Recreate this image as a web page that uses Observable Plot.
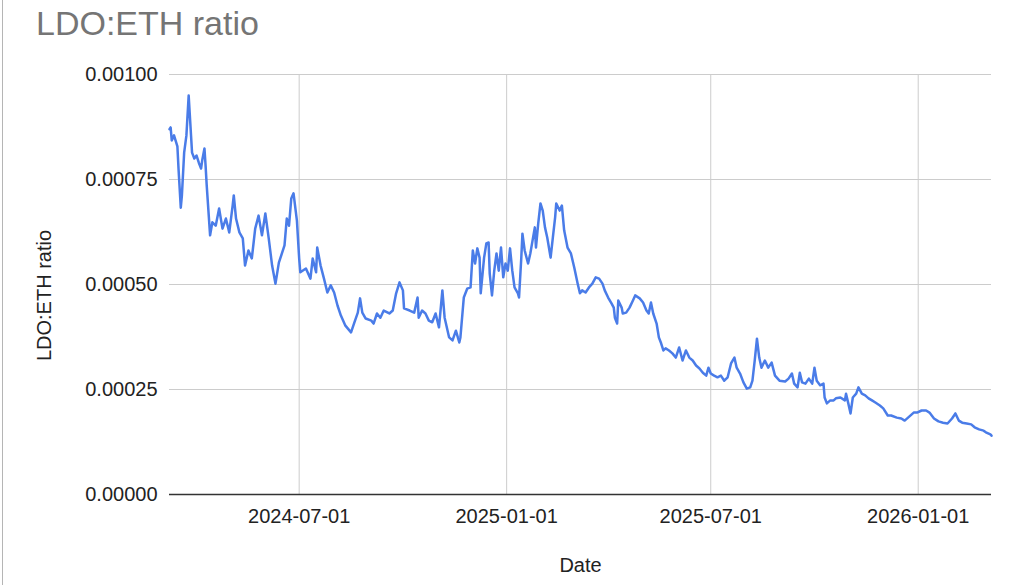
<!DOCTYPE html>
<html>
<head>
<meta charset="utf-8">
<script src="https://cdn.jsdelivr.net/npm/d3@7"></script>
<script src="https://cdn.jsdelivr.net/npm/@observablehq/plot@0.6"></script>
<style>
  html, body { margin: 0; padding: 0; background: #fff; }
  #wrap { position: relative; width: 1024px; height: 585px; overflow: hidden; font-family: "Liberation Sans", Arial, sans-serif; }
  #title { position: absolute; left: 36px; top: 4px; font-size: 34px; color: #757575; white-space: nowrap; }
  #edge { position: absolute; left: 2px; top: 0; width: 1px; height: 585px; background: #b5b5b5; }
  #chart { position: absolute; left: 0; top: 0; }
</style>
</head>
<body>
<div id="wrap">
  <div id="chart"></div>
  <div id="title">LDO:ETH ratio</div>
  <div id="edge"></div>
</div>
<script>
const titleText = "LDO:ETH ratio";
const xLabel = "Date";
const yLabel = "LDO:ETH ratio";

const xTickLabels = ["2024-07-01", "2025-01-01", "2025-07-01", "2026-01-01"];
const yTicks = [0, 0.00025, 0.0005, 0.00075, 0.001];

const dates = [
"2024-03-08","2024-03-09","2024-03-10","2024-03-12","2024-03-15","2024-03-16","2024-03-18","2024-03-19","2024-03-21","2024-03-23",
"2024-03-25","2024-03-28","2024-03-30","2024-04-01","2024-04-03","2024-04-05","2024-04-06","2024-04-08","2024-04-09","2024-04-10",
"2024-04-13","2024-04-15","2024-04-18","2024-04-21","2024-04-24","2024-04-27","2024-04-30","2024-05-03","2024-05-04","2024-05-06",
"2024-05-09","2024-05-12","2024-05-14","2024-05-17","2024-05-20","2024-05-23","2024-05-26","2024-05-29","2024-06-01","2024-06-04",
"2024-06-07","2024-06-10","2024-06-13","2024-06-18","2024-06-20","2024-06-22","2024-06-24","2024-06-26","2024-06-29","2024-07-01",
"2024-07-02","2024-07-07","2024-07-11","2024-07-13","2024-07-16","2024-07-17","2024-07-20","2024-07-23","2024-07-26","2024-07-29",
"2024-08-01","2024-08-04","2024-08-07","2024-08-11","2024-08-16","2024-08-19","2024-08-22","2024-08-24","2024-08-26","2024-08-29",
"2024-09-03","2024-09-05","2024-09-08","2024-09-11","2024-09-14","2024-09-19","2024-09-22","2024-09-25","2024-09-28","2024-10-01",
"2024-10-02","2024-10-07","2024-10-11","2024-10-14","2024-10-15","2024-10-18","2024-10-21","2024-10-24","2024-10-27","2024-10-30",
"2024-11-02","2024-11-05","2024-11-07","2024-11-11","2024-11-14","2024-11-17","2024-11-20","2024-11-21","2024-11-24","2024-11-27",
"2024-11-30","2024-12-02","2024-12-04","2024-12-06","2024-12-08","2024-12-09","2024-12-12","2024-12-14","2024-12-16","2024-12-17",
"2024-12-19","2024-12-21","2024-12-23","2024-12-25","2024-12-27","2024-12-29","2024-12-31","2025-01-02","2025-01-04","2025-01-06",
"2025-01-08","2025-01-11","2025-01-12","2025-01-14","2025-01-15","2025-01-17","2025-01-20","2025-01-22","2025-01-24","2025-01-26",
"2025-01-27","2025-01-29","2025-01-31","2025-02-02","2025-02-04","2025-02-06","2025-02-09","2025-02-11","2025-02-13","2025-02-14",
"2025-02-17","2025-02-19","2025-02-21","2025-02-24","2025-02-27","2025-03-02","2025-03-05","2025-03-07","2025-03-09","2025-03-12",
"2025-03-15","2025-03-18","2025-03-21","2025-03-24","2025-03-27","2025-03-29","2025-04-01","2025-04-04","2025-04-06","2025-04-07",
"2025-04-09","2025-04-10","2025-04-13","2025-04-14","2025-04-17","2025-04-20","2025-04-23","2025-04-25","2025-04-29","2025-05-02",
"2025-05-05","2025-05-07","2025-05-09","2025-05-11","2025-05-14","2025-05-16","2025-05-18","2025-05-20","2025-05-22","2025-05-25",
"2025-05-28","2025-05-31","2025-06-03","2025-06-06","2025-06-09","2025-06-12","2025-06-15","2025-06-18","2025-06-21","2025-06-24",
"2025-06-27","2025-06-29","2025-07-01","2025-07-04","2025-07-07","2025-07-10","2025-07-13","2025-07-16","2025-07-19","2025-07-22",
"2025-07-24","2025-07-27","2025-07-30","2025-08-02","2025-08-05","2025-08-07","2025-08-09","2025-08-11","2025-08-13","2025-08-15",
"2025-08-18","2025-08-21","2025-08-24","2025-08-27","2025-08-31","2025-09-05","2025-09-08","2025-09-11","2025-09-13","2025-09-16",
"2025-09-18","2025-09-20","2025-09-23","2025-09-26","2025-09-29","2025-10-01","2025-10-03","2025-10-06","2025-10-09","2025-10-10",
"2025-10-12","2025-10-15","2025-10-18","2025-10-20","2025-10-24","2025-10-28","2025-10-29","2025-10-31","2025-11-02","2025-11-04",
"2025-11-07","2025-11-09","2025-11-12","2025-11-15","2025-11-18","2025-11-21","2025-11-24","2025-11-28","2025-12-01","2025-12-05",
"2025-12-08","2025-12-13","2025-12-17","2025-12-20","2025-12-23","2025-12-28","2025-12-31","2026-01-04","2026-01-08","2026-01-11",
"2026-01-15","2026-01-19","2026-01-23","2026-01-27","2026-01-31","2026-02-03","2026-02-06","2026-02-09","2026-02-13","2026-02-17",
"2026-02-20","2026-02-24","2026-02-28","2026-03-02","2026-03-06","2026-03-07"
];

const ratios = [
0.000870,0.000874,0.000843,0.000855,0.000829,0.000776,0.000683,0.000712,0.000814,0.000855,
0.000950,0.000814,0.000800,0.000807,0.000790,0.000776,0.000795,0.000824,0.000783,0.000736,
0.000617,0.000648,0.000640,0.000681,0.000633,0.000657,0.000624,0.000688,0.000712,0.000657,
0.000624,0.000610,0.000545,0.000581,0.000562,0.000633,0.000664,0.000617,0.000669,0.000610,
0.000545,0.000502,0.000552,0.000593,0.000657,0.000640,0.000705,0.000717,0.000652,0.000562,
0.000529,0.000538,0.000514,0.000562,0.000529,0.000588,0.000545,0.000514,0.000481,0.000498,
0.000481,0.000450,0.000426,0.000402,0.000386,0.000410,0.000433,0.000467,0.000433,0.000419,
0.000414,0.000407,0.000431,0.000421,0.000438,0.000431,0.000438,0.000479,0.000505,0.000486,
0.000443,0.000438,0.000433,0.000469,0.000421,0.000438,0.000431,0.000414,0.000410,0.000431,
0.000398,0.000486,0.000421,0.000374,0.000367,0.000390,0.000362,0.000374,0.000469,0.000490,
0.000493,0.000581,0.000550,0.000586,0.000564,0.000479,0.000564,0.000598,0.000600,0.000526,
0.000474,0.000533,0.000574,0.000533,0.000588,0.000517,0.000550,0.000533,0.000586,0.000533,
0.000493,0.000479,0.000469,0.000564,0.000621,0.000581,0.000550,0.000574,0.000605,0.000636,
0.000588,0.000645,0.000693,0.000676,0.000636,0.000612,0.000564,0.000612,0.000660,0.000693,
0.000676,0.000688,0.000629,0.000588,0.000574,0.000540,0.000502,0.000479,0.000486,0.000481,
0.000493,0.000502,0.000517,0.000514,0.000502,0.000486,0.000469,0.000455,0.000445,0.000421,
0.000407,0.000462,0.000445,0.000431,0.000433,0.000445,0.000462,0.000474,0.000467,0.000457,
0.000438,0.000431,0.000457,0.000431,0.000407,0.000374,0.000360,0.000343,0.000348,0.000343,
0.000336,0.000326,0.000350,0.000319,0.000343,0.000326,0.000319,0.000307,0.000300,0.000290,
0.000283,0.000302,0.000288,0.000283,0.000279,0.000283,0.000271,0.000279,0.000312,0.000326,
0.000302,0.000288,0.000267,0.000252,0.000255,0.000271,0.000319,0.000371,0.000326,0.000302,
0.000319,0.000302,0.000314,0.000283,0.000271,0.000269,0.000276,0.000288,0.000264,0.000255,
0.000290,0.000267,0.000264,0.000276,0.000264,0.000302,0.000271,0.000260,0.000264,0.000231,
0.000217,0.000224,0.000224,0.000229,0.000231,0.000224,0.000240,0.000217,0.000193,0.000231,
0.000240,0.000255,0.000240,0.000236,0.000229,0.000224,0.000219,0.000212,0.000205,0.000188,
0.000188,0.000183,0.000181,0.000176,0.000183,0.000195,0.000195,0.000200,0.000200,0.000195,
0.000181,0.000174,0.000171,0.000169,0.000181,0.000193,0.000176,0.000171,0.000169,0.000167,
0.000160,0.000155,0.000152,0.000148,0.000143,0.000140
];

document.getElementById("title").textContent = titleText;

const data = dates.map((d, i) => ({date: new Date(d), ratio: ratios[i]}));
const xTicks = xTickLabels.map(s => new Date(s));
const fmtDate = d3.utcFormat("%Y-%m-%d");
const fmtY = d3.format(".5f");

const chart = Plot.plot({
  width: 1024,
  height: 585,
  marginLeft: 169,
  marginRight: 33,
  marginTop: 74,
  marginBottom: 91,
  style: {fontFamily: "'Liberation Sans', Arial, sans-serif", fontSize: "20px", color: "#222", background: "transparent"},
  x: {type: "utc", domain: d3.extent(data, d => d.date)},
  y: {domain: [0, 0.001]},
  marks: [
    Plot.gridY({ticks: yTicks, stroke: "#cccccc", strokeOpacity: 1}),
    Plot.gridX({ticks: xTicks, stroke: "#cccccc", strokeOpacity: 1}),
    Plot.ruleY([0], {stroke: "#333333", strokeWidth: 1.5}),
    Plot.line(data, {x: "date", y: "ratio", stroke: "#4a7ce8", strokeWidth: 2.5, strokeLinejoin: "round"}),
    Plot.axisY({ticks: yTicks, tickSize: 0, tickPadding: 12, tickFormat: fmtY, fontSize: 20, label: null}),
    Plot.axisX({ticks: xTicks, tickSize: 0, tickPadding: 14, tickFormat: fmtDate, fontSize: 20, label: null}),
    Plot.text([yLabel], {frameAnchor: "left", textAnchor: "middle", rotate: -90, dx: -125, dy: 11, fontSize: 20, fill: "#222"}),
    Plot.text([xLabel], {frameAnchor: "bottom", dy: 77, fontSize: 20, fill: "#222"})
  ]
});
document.getElementById("chart").appendChild(chart);
</script>
</body>
</html>
